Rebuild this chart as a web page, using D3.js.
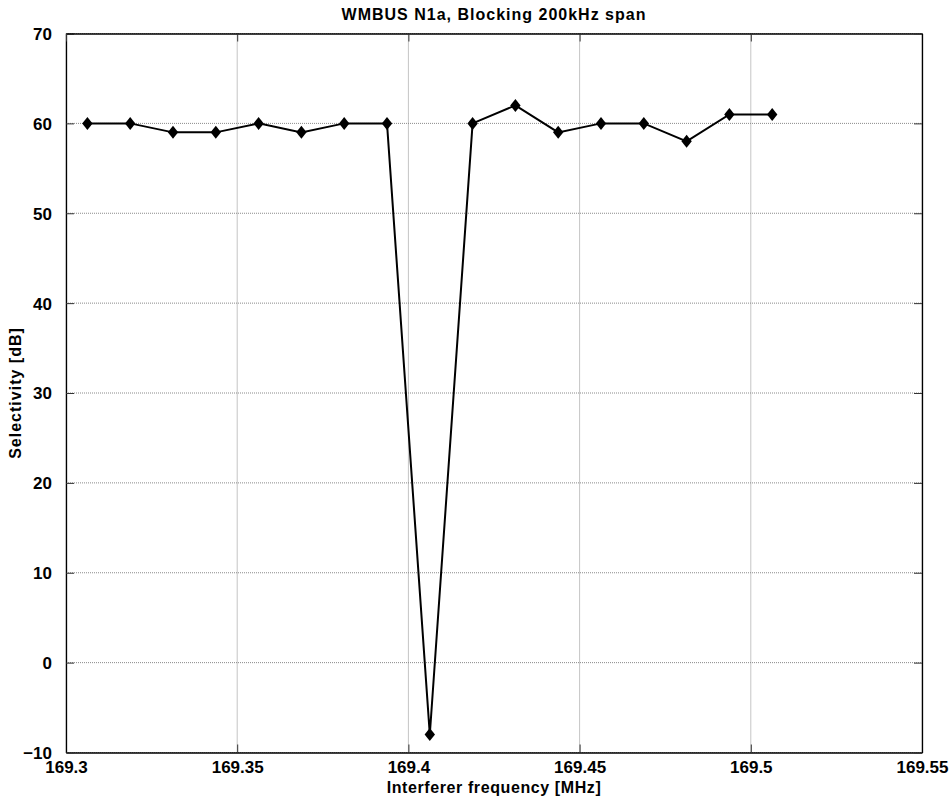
<!DOCTYPE html>
<html>
<head>
<meta charset="utf-8">
<script src="https://cdn.jsdelivr.net/npm/d3@7"></script>
<style>
  body { margin: 0; background: #fff; }
  svg text { font-family: "Liberation Sans", Arial, sans-serif !important; font-weight: 700 !important; fill: #000; }
</style>
</head>
<body>
<div id="chart"></div>
<script>
// Data: interferer frequency (MHz) and selectivity (dB)
var freqs = [169.30625, 169.31875, 169.33125, 169.34375, 169.35625, 169.36875,
  169.38125, 169.39375, 169.40625, 169.41875, 169.43125, 169.44375,
  169.45625, 169.46875, 169.48125, 169.49375, 169.50625];
var selectivity = [60, 60, 59, 59, 60, 59, 60, 60, -8, 60, 62, 59, 60, 60, 58, 61, 61];
var xTicks = [169.3, 169.35, 169.4, 169.45, 169.5, 169.55];
var xTickLabels = ["169.3", "169.35", "169.4", "169.45", "169.5", "169.55"];
var yTicks = [-10, 0, 10, 20, 30, 40, 50, 60, 70];

var data = freqs.map(function(f, i) { return { f: f, v: selectivity[i] }; });

// Settings
var width = 952;
var height = 802;
var margin = { left: 66, right: 30, top: 33.5, bottom: 49.5 };
var w = width - margin.left - margin.right;
var h = height - margin.top - margin.bottom;

var svg = d3.select('#chart')
  .append('svg')
  .attr('width', width)
  .attr('height', height);

var g = svg.append('g')
  .attr('transform', 'translate(' + margin.left + ',' + margin.top + ')');

var x = d3.scaleLinear().domain([169.3, 169.55]).range([0, w]);
var y = d3.scaleLinear().domain([-10, 70]).range([h, 0]);

// Grid
g.selectAll('.vgrid')
  .data(xTicks)
  .enter()
  .append('line')
  .attr('x1', function(d) { return x(d); })
  .attr('x2', function(d) { return x(d); })
  .attr('y1', 0)
  .attr('y2', h)
  .attr('stroke', '#8a8a8a')
  .attr('stroke-dasharray', '1,1');

g.selectAll('.hgrid')
  .data(yTicks)
  .enter()
  .append('line')
  .attr('x1', 0)
  .attr('x2', w)
  .attr('y1', function(d) { return y(d); })
  .attr('y2', function(d) { return y(d); })
  .attr('stroke', '#8a8a8a')
  .attr('stroke-dasharray', '1,1');

// Axes (MATLAB style: ticks inside, box all round)
var xAxis = d3.axisBottom(x).tickValues(xTicks)
  .tickFormat(function(d, i) { return xTickLabels[i]; })
  .tickSizeInner(-8).tickSizeOuter(0).tickPadding(13);
var yAxis = d3.axisLeft(y).tickValues(yTicks)
  .tickSizeInner(-8).tickSizeOuter(0).tickPadding(14);

var gx = g.append('g').attr('transform', 'translate(0,' + h + ')').call(xAxis);
var gy = g.append('g').call(yAxis);
g.append('g').call(d3.axisTop(x).tickValues(xTicks).tickFormat('').tickSizeInner(-8).tickSizeOuter(0));
g.append('g').attr('transform', 'translate(' + w + ',0)')
  .call(d3.axisRight(y).tickValues(yTicks).tickFormat('').tickSizeInner(-8).tickSizeOuter(0));

g.selectAll('.domain').attr('stroke', '#000').attr('stroke-width', 1.3);
g.selectAll('.tick line').attr('stroke', '#333');
gx.selectAll('text').attr('font-size', null).style('font-size', '17px').attr('dy', '0.45em');
gy.selectAll('text').attr('font-size', null).style('font-size', '17px').attr('dy', '0.35em');

// Line
var line = d3.line()
  .x(function(d) { return x(d.f); })
  .y(function(d) { return y(d.v); });

g.append('path')
  .datum(data)
  .attr('d', line)
  .attr('fill', 'none')
  .attr('stroke', '#000')
  .attr('stroke-width', 2);

// Diamond markers
g.selectAll('.pt')
  .data(data)
  .enter()
  .append('path')
  .attr('class', 'pt')
  .attr('d', 'M0,-6.5L5.2,0L0,6.5L-5.2,0Z')
  .attr('transform', function(d) { return 'translate(' + x(d.f) + ',' + y(d.v) + ')'; })
  .attr('fill', '#000');

// Titles
svg.append('text')
  .attr('x', margin.left + w / 2)
  .attr('y', 20)
  .attr('text-anchor', 'middle')
  .style('font-size', '16px')
  .style('letter-spacing', '1px')
  .text('WMBUS N1a, Blocking 200kHz span');

svg.append('text')
  .attr('x', margin.left + w / 2)
  .attr('y', 793)
  .attr('text-anchor', 'middle')
  .style('font-size', '16px')
  .style('letter-spacing', '0.6px')
  .text('Interferer frequency [MHz]');

svg.append('text')
  .attr('transform', 'translate(21,' + (margin.top + h / 2) + ') rotate(-90)')
  .attr('text-anchor', 'middle')
  .style('font-size', '16px')
  .style('letter-spacing', '1px')
  .text('Selectivity [dB]');
</script>
</body>
</html>
